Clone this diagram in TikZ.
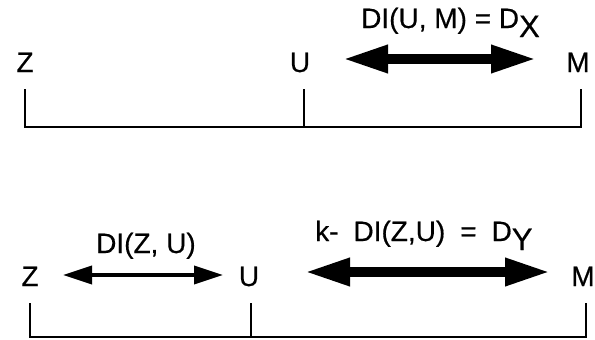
\documentclass[tikz,border=0pt]{standalone}
\usepackage{fontspec}
\setmainfont{Liberation Sans}[FakeBold=0.5]
\usetikzlibrary{arrows.meta}
\newcommand{\lowsub}[1]{\raisebox{-9pt}{\fontsize{31}{35}\selectfont #1}}
\begin{document}
\begin{tikzpicture}[x=1pt,y=-1pt,
  lbl/.style={anchor=base, inner sep=0pt, font=\fontsize{28}{32}\selectfont},
  axis/.style={line width=2.2pt, line join=miter},
  bigarrow/.style={line width=9.5pt, {Triangle[length=45pt,width=26pt]}-{Triangle[length=45pt,width=26pt]}},
  smallarrow/.style={line width=3.5pt, {Triangle[length=29pt,width=18pt]}-{Triangle[length=29pt,width=18pt]}}]
\useasboundingbox (0,0) rectangle (595,340);
% ---- top row ----
\node[lbl] (z1) at (25,72) {Z};
\node[lbl] (u1) at (300,72) {U};
\node[lbl] (m1) at (578,72) {M};
\node[lbl, anchor=base west] (t1) at (361,28) {DI(U, M) = D\lowsub{X}};
\coordinate (a1l) at (343,59);
\coordinate (a1r) at (536,59);
\draw[bigarrow] (a1l) -- (a1r);
\coordinate (z1t) at (25,89);
\coordinate (z1b) at (25,127);
\coordinate (u1t) at (304,89);
\coordinate (u1b) at (304,127);
\coordinate (m1t) at (581,89);
\coordinate (m1b) at (581,127);
\draw[axis] (z1t) -- (z1b) -- (m1b) -- (m1t);
\draw[axis] (u1t) -- (u1b);
% ---- bottom row ----
\node[lbl] (z2) at (30,286) {Z};
\node[lbl] (u2) at (249,286) {U};
\node[lbl] (m2) at (583,286) {M};
\node[lbl, anchor=base west] (t2) at (96,253) {DI(Z, U)};
\node[lbl, anchor=base west] (t3) at (315,241) {k-\hspace{15pt}DI(Z,U)\hspace{15pt}=\hspace{15pt}D\lowsub{Y}};
\coordinate (a2l) at (63,275);
\coordinate (a2r) at (223,275);
\draw[smallarrow] (a2l) -- (a2r);
\coordinate (a3l) at (305,272);
\coordinate (a3r) at (550,272);
\draw[bigarrow] (a3l) -- (a3r);
\coordinate (z2t) at (30,303);
\coordinate (z2b) at (30,337);
\coordinate (u2t) at (251,303);
\coordinate (u2b) at (251,337);
\coordinate (m2t) at (586,303);
\coordinate (m2b) at (586,337);
\draw[axis] (z2t) -- (z2b) -- (m2b) -- (m2t);
\draw[axis] (u2t) -- (u2b);
\end{tikzpicture}
\end{document}
